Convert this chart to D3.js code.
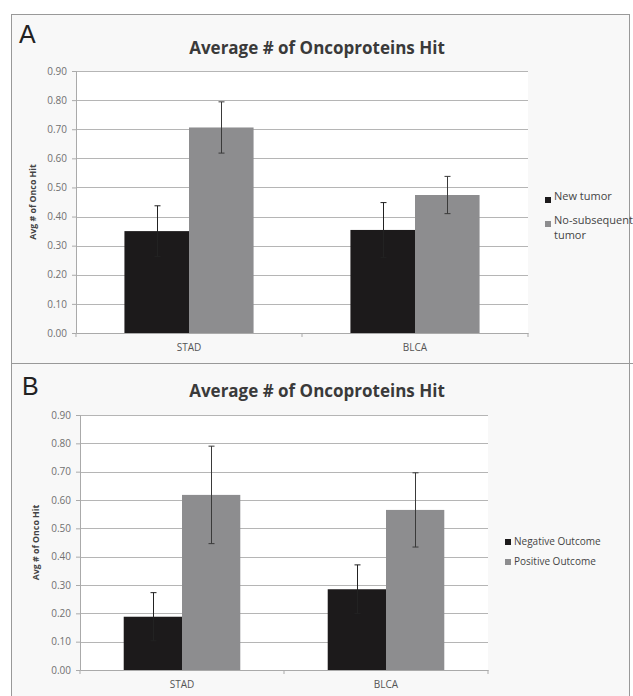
<!DOCTYPE html>
<head>
  <meta charset="utf-8">
  <title>Average # of Oncoproteins Hit</title>
  <script src="https://d3js.org/d3.v7.min.js"></script>
  <style>
    body { margin: 0; background: #fff; }
    svg { font-family: "Open Sans", sans-serif; }
  </style>
</head>
<body>
<svg id="chart" width="633" height="696"></svg>
<script>
  var categories = ["STAD", "BLCA"];
  var yTicks = [0, 0.1, 0.2, 0.3, 0.4, 0.5, 0.6, 0.7, 0.8, 0.9];

  // panel A
  var seriesA = ["New tumor", "No-subsequent tumor"];
  var valuesA = [[0.350, 0.354], [0.706, 0.474]];
  var errorsA = [[0.087, 0.094], [0.088, 0.064]];

  // panel B
  var seriesB = ["Negative Outcome", "Positive Outcome"];
  var valuesB = [[0.188, 0.285], [0.618, 0.565]];
  var errorsB = [[0.085, 0.086], [0.172, 0.131]];

  var colors = ["#1c1a1b", "#8d8d8f"];

  var svg = d3.select("#chart");

  // frame
  svg.append("rect").attr("x", 11.5).attr("y", 14.5).attr("width", 618).attr("height", 690)
    .attr("fill", "#f8f8f8").attr("stroke", "#999").attr("stroke-width", 1);
  svg.append("line").attr("x1", 11.5).attr("x2", 633).attr("y1", 363.5).attr("y2", 363.5)
    .attr("stroke", "#999");

  function panel(opt) {
    var g = svg.append("g");
    var y = d3.scaleLinear().domain([0, 0.9]).range([opt.bottom, opt.top]);
    var x0 = d3.scaleBand().domain(categories).range([opt.left, opt.right]);
    // two bars fill 2 of 3.5 units of each band (150% gap)
    var x1 = d3.scaleBand().domain([0, 1]).range([x0.bandwidth() * 0.75 / 3.5, x0.bandwidth() * 2.75 / 3.5]);

    g.append("rect").attr("x", opt.left).attr("y", opt.top).attr("width", opt.right - opt.left)
      .attr("height", opt.bottom - opt.top).attr("fill", "#fff");

    // gridlines
    g.selectAll(".grid").data(yTicks.slice(1)).enter().append("line")
      .attr("x1", opt.left).attr("x2", opt.right)
      .attr("y1", function(d) { return Math.round(y(d)) + 0.5; })
      .attr("y2", function(d) { return Math.round(y(d)) + 0.5; })
      .attr("stroke", "#b5b5b5").attr("stroke-width", 1.2);

    var yAxis = g.append("g").attr("transform", "translate(" + opt.left + ",0)")
      .call(d3.axisLeft(y).tickValues(yTicks).tickFormat(d3.format(".2f")).tickSize(4).tickPadding(5));
    yAxis.attr("font-family", null).attr("font-size", null);
    yAxis.select(".domain").attr("stroke", "#aaa");
    yAxis.selectAll(".tick line").attr("stroke", "#aaa");
    yAxis.selectAll(".tick text").attr("font-size", 10).attr("fill", "#707070");

    var xAxis = g.append("g").attr("transform", "translate(0," + opt.bottom + ")")
      .call(d3.axisBottom(x0).tickSize(0).tickPadding(11));
    xAxis.attr("font-family", null).attr("font-size", null);
    xAxis.select(".domain").attr("stroke", "#aaa");
    xAxis.selectAll(".tick text").attr("font-size", 10).attr("fill", "#555");
    xAxis.selectAll(".bound").data([opt.left, x0("BLCA"), opt.right]).enter().append("line")
      .attr("x1", function(d) { return d; }).attr("x2", function(d) { return d; })
      .attr("y1", 0).attr("y2", 4).attr("stroke", "#aaa");

    opt.values.forEach(function(vals, s) {
      var grp = g.append("g");
      grp.selectAll("rect").data(vals).enter().append("rect")
        .attr("x", function(d, i) { return x0(categories[i]) + x1(s); })
        .attr("width", x1.bandwidth())
        .attr("y", function(d) { return y(d); })
        .attr("height", function(d) { return y(0) - y(d); })
        .attr("fill", colors[s]);
      vals.forEach(function(v, i) {
        var cx = Math.round(x0(categories[i]) + x1(s) + x1.bandwidth() / 2) + 0.5;
        var e = opt.errors[s][i];
        var eg = grp.append("g").attr("stroke", s === 0 ? "#222" : "#3a3a3a").attr("stroke-width", 1);
        eg.append("line").attr("x1", cx).attr("x2", cx).attr("y1", y(v - e)).attr("y2", y(v + e));
        eg.append("line").attr("x1", cx - 3).attr("x2", cx + 3).attr("y1", y(v + e)).attr("y2", y(v + e));
        eg.append("line").attr("x1", cx - 3).attr("x2", cx + 3).attr("y1", y(v - e)).attr("y2", y(v - e));
      });
    });

    // titles
    g.append("text").attr("x", opt.letterX).attr("y", opt.letterY).text(opt.letter)
      .attr("font-size", 25).attr("font-family", "Liberation Sans, sans-serif").attr("fill", "#222");
    g.append("text").attr("x", 317).attr("y", opt.titleY).attr("text-anchor", "middle")
      .text("Average # of Oncoproteins Hit").attr("font-size", 17).attr("font-weight", "bold").attr("fill", "#3a3a3a");
    g.append("text").attr("transform", "translate(" + opt.yTitleX + "," + (opt.top + opt.bottom) / 2 + ") rotate(-90)")
      .attr("text-anchor", "middle").text("Avg # of Onco Hit")
      .attr("font-size", 8.8).attr("font-weight", "bold").attr("fill", "#444");

    // legend
    opt.legend.forEach(function(name, s) {
      var ly = opt.legendY + s * opt.legendStep;
      g.append("rect").attr("x", opt.legendX).attr("y", ly - 5).attr("width", 6).attr("height", 6).attr("fill", colors[s]);
      var t = g.append("text").attr("y", ly + opt.textDy)
        .attr("font-size", opt.legendSize).attr("fill", "#444");
      var lines = opt.wrap && s === 1 ? ["No-subsequent", "tumor"] : [name];
      lines.forEach(function(l, k) {
        t.append("tspan").attr("x", opt.legendX + 9).attr("dy", k === 0 ? 0 : 15).text(l);
      });
    });
  }

  panel({ top: 71, bottom: 333, left: 76, right: 528, values: valuesA, errors: errorsA,
    letter: "A", letterX: 19, letterY: 43, titleY: 54, yTitleX: 36,
    legend: seriesA, legendX: 545, legendY: 202, legendStep: 24, textDy: -2, legendSize: 11, wrap: true });
  panel({ top: 415, bottom: 670, left: 80, right: 488, values: valuesB, errors: errorsB,
    letter: "B", letterX: 22, letterY: 395, titleY: 397, yTitleX: 39,
    legend: seriesB, legendX: 505, legendY: 544, legendStep: 20, textDy: 1, legendSize: 10, wrap: false });
</script>
</body>
</html>
